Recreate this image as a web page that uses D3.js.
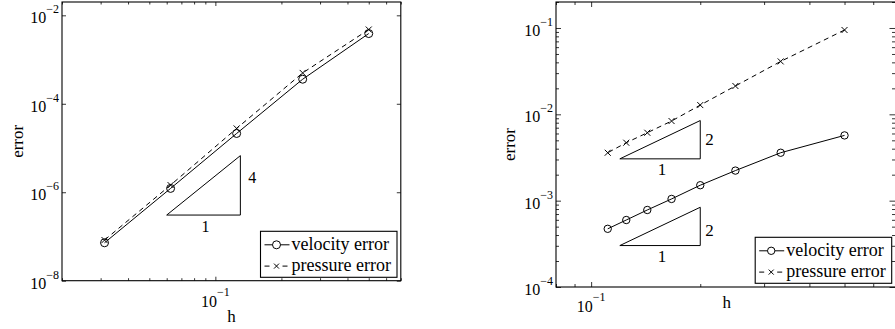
<!DOCTYPE html>
<html><head><meta charset="utf-8">
<script src="https://cdn.jsdelivr.net/npm/d3@7"></script>
<style>
body{margin:0;background:#fff;}
svg{display:block;}
text{font-family:"Liberation Serif","Times New Roman",serif;fill:#000;}
</style>
</head><body>
<svg id="chart" width="895" height="329"></svg>
<script>
// ---------- data ----------
const hLeft = [1/2, 1/4, 1/8, 1/16, 1/32];
const velLeft = [3.87e-3, 3.59e-4, 2.13e-5, 1.22e-6, 7.2e-8];
const presLeft = [4.77e-3, 4.98e-4, 2.77e-5, 1.45e-6, 8.3e-8];

const hRight = [1/2, 1/3, 1/4, 1/5, 1/6, 1/7, 1/8, 1/9];
const velRight = [5.70e-3, 3.59e-3, 2.23e-3, 1.51e-3, 1.047e-3, 7.80e-4, 5.97e-4, 4.72e-4];
const presRight = [0.0948, 0.041, 0.0213, 0.0128, 8.36e-3, 6.12e-3, 4.69e-3, 3.59e-3];

const legendLabels = ["velocity error", "pressure error"];
const xTickLeft = [0.1];
const xTickRight = [0.1];
const yTickLeft = [1e-8, 1e-6, 1e-4, 1e-2];
const yTickRight = [1e-4, 1e-3, 1e-2, 1e-1];
// slope triangles: [x0, x1, y0, rate]
const triLeft = [[0.06, 0.13, 3.05e-7, 4]];
const triRight = [[0.12, 0.2, 3.05e-3, 2], [0.12, 0.2, 3.02e-4, 2]];

// ---------- drawing ----------
const svg = d3.select("#chart");
const minus = "\u2212";

function minorsIn(domain) {
  const out = [];
  const lo = Math.floor(Math.log10(domain[0])), hi = Math.ceil(Math.log10(domain[1]));
  for (let k = lo; k <= hi; k++) for (let m = 2; m <= 9; m++) {
    const v = m * Math.pow(10, k);
    if (v >= domain[0] * 0.999 && v <= domain[1] * 1.001) out.push(v);
  }
  return out;
}

function expLabel(sel, v, baseSize, supSize, supDy) {
  const e = Math.round(Math.log10(v));
  sel.append("tspan").attr("font-size", baseSize).text("10");
  sel.append("tspan").attr("font-size", supSize).attr("dy", supDy)
    .text((e < 0 ? minus : "") + Math.abs(e));
}

function panel(c) {
  const x = d3.scaleLog().domain(c.xDomain).range([c.left, c.right]);
  const y = d3.scaleLog().domain(c.yDomain).range([c.bottom, c.top]);
  const g = svg.append("g");

  const tickGroup = (axisFn, vals, len, transform) => {
    const a = g.append("g").attr("transform", transform)
      .call(axisFn.tickValues(vals).tickSize(-len).tickFormat(""));
    a.select(".domain").remove();
    a.selectAll("line").attr("stroke", "#000").attr("stroke-width", 0.8);
  };
  const xMin = c.xMinor ? minorsIn(c.xDomain) : [];
  const yMin = c.yMinor ? minorsIn(c.yDomain) : [];
  tickGroup(d3.axisBottom(x), c.xTicks, c.majLen, `translate(0,${c.bottom})`);
  tickGroup(d3.axisTop(x), c.xTicks, c.majLen, `translate(0,${c.top})`);
  tickGroup(d3.axisBottom(x), xMin, c.minLen, `translate(0,${c.bottom})`);
  tickGroup(d3.axisTop(x), xMin, c.minLen, `translate(0,${c.top})`);
  tickGroup(d3.axisLeft(y), c.yTicks, c.majLen, `translate(${c.left},0)`);
  tickGroup(d3.axisRight(y), c.yTicks, c.rMajLen, `translate(${c.right},0)`);
  tickGroup(d3.axisLeft(y), yMin, c.minLen, `translate(${c.left},0)`);
  tickGroup(d3.axisRight(y), yMin, c.rMinLen, `translate(${c.right},0)`);

  g.append("rect").attr("x", c.left).attr("y", c.top)
    .attr("width", c.right - c.left).attr("height", c.bottom - c.top)
    .attr("fill", "none").attr("stroke", "#000").attr("stroke-width", 1.1);

  // tick labels
  c.yTicks.forEach(v => {
    const t = g.append("text").attr("x", c.left - 3).attr("y", y(v) + 8)
      .attr("text-anchor", "end");
    expLabel(t, v, 16, 12, -10);
  });
  c.xTicks.forEach(v => {
    const t = g.append("text").attr("x", x(v)).attr("y", c.bottom + c.xLabDy)
      .attr("text-anchor", "middle");
    expLabel(t, v, 16, 12, -11);
  });

  // axis titles
  g.append("text").attr("x", (c.left + c.right) / 2).attr("y", c.hY)
    .attr("text-anchor", "middle").attr("font-size", 17).text("h");
  g.append("text").attr("transform", `translate(${c.errX},${(c.top + c.bottom) / 2}) rotate(-90)`)
    .attr("text-anchor", "middle").attr("font-size", 17).text("error");

  // triangles
  c.tris.forEach((t, i) => {
    const [x0, x1, y0, r] = t;
    const y1 = y0 * Math.pow(x1 / x0, r);
    g.append("path")
      .attr("d", `M${x(x0)},${y(y0)}L${x(x1)},${y(y0)}L${x(x1)},${y(y1)}Z`)
      .attr("fill", "none").attr("stroke", "#000").attr("stroke-width", 1);
    g.append("text").attr("x", (x(x0) + x(x1)) / 2 + 2).attr("y", y(y0) + 16.5)
      .attr("text-anchor", "middle").attr("font-size", c.triFont).text("1");
    g.append("text").attr("x", x(x1) + c.rateDx)
      .attr("y", (y(y0) + y(y1)) / 2 + c.rateDy[i])
      .attr("font-size", c.triFont).text(String(r));
  });

  // series
  const pts = (hs, vs) => hs.map((h, i) => [x(h), y(vs[i])]);
  const line = d3.line();
  const pv = pts(c.h, c.vel), pp = pts(c.h, c.pres);
  g.append("path").attr("d", line(pv)).attr("fill", "none")
    .attr("stroke", "#000").attr("stroke-width", 1);
  g.append("path").attr("d", line(pp)).attr("fill", "none")
    .attr("stroke", "#000").attr("stroke-width", 1).attr("stroke-dasharray", "5,4");
  g.selectAll(null).data(pv).enter().append("circle")
    .attr("cx", d => d[0]).attr("cy", d => d[1]).attr("r", c.mr)
    .attr("fill", "none").attr("stroke", "#000").attr("stroke-width", 1);
  const cross = (s, cx, cy, k) => s.append("path")
    .attr("d", `M${cx - k},${cy - k}L${cx + k},${cy + k}M${cx - k},${cy + k}L${cx + k},${cy - k}`)
    .attr("stroke", "#000").attr("stroke-width", 1);
  pp.forEach(p => cross(g, p[0], p[1], 3));

  // legend
  const lw = 136.5, lh = 46;
  const lx = c.right - c.legR - lw, ly = c.bottom - c.legB - lh;
  const lg = g.append("g");
  lg.append("rect").attr("x", lx).attr("y", ly).attr("width", lw).attr("height", lh)
    .attr("fill", "#fff").attr("stroke", "#000").attr("stroke-width", 1.1);
  legendLabels.forEach((lab, i) => {
    const ry = ly + 13.5 + i * 21.3;
    const seg = lg.append("line").attr("x1", lx + 4).attr("x2", lx + 29)
      .attr("y1", ry).attr("y2", ry).attr("stroke", "#000").attr("stroke-width", 1);
    if (i === 1) seg.attr("stroke-dasharray", "5,4").attr("x1", lx + 4);
    if (i === 0) lg.append("circle").attr("cx", lx + 16).attr("cy", ry).attr("r", c.mr)
      .attr("fill", "#fff").attr("stroke", "#000").attr("stroke-width", 1);
    else { lg.append("rect").attr("x", lx + 12).attr("y", ry - 4).attr("width", 8).attr("height", 8).attr("fill", "#fff");
      cross(lg, lx + 16, ry, 2.5); }
    lg.append("text").attr("x", lx + 31).attr("y", ly + 18.8 + i * 21.3)
      .attr("font-size", 18).text(lab);
  });
}

panel({
  left: 62, right: 400.8, top: 2, bottom: 280.7,
  xDomain: [0.02, 0.7], yDomain: [1e-8, 2e-2],
  xTicks: xTickLeft, yTicks: yTickLeft, xMinor: true, yMinor: false,
  majLen: 4, minLen: 2.5, rMajLen: 4, rMinLen: 2.5, xLabDy: 26, hY: 321.7, errX: 22.5,
  h: hLeft, vel: velLeft, pres: presLeft, mr: 4,
  tris: triLeft, triFont: 16, rateDx: 8, rateDy: [-2],
  legR: 3.8, legB: 3.4
});
panel({
  left: 556, right: 897.5, top: 2, bottom: 287,
  xDomain: [0.08, 0.7], yDomain: [1e-4, 0.2],
  xTicks: xTickRight, yTicks: yTickRight, xMinor: true, yMinor: true,
  majLen: 5, minLen: 3, rMajLen: 8, rMinLen: 5.5, xLabDy: 24.7, hY: 308.3, errX: 515,
  h: hRight, vel: velRight, pres: presRight, mr: 3.7,
  tris: triRight, triFont: 17, rateDx: 5, rateDy: [5, 10],
  legR: 5.8, legB: 3.7
});
</script>
</body></html>
